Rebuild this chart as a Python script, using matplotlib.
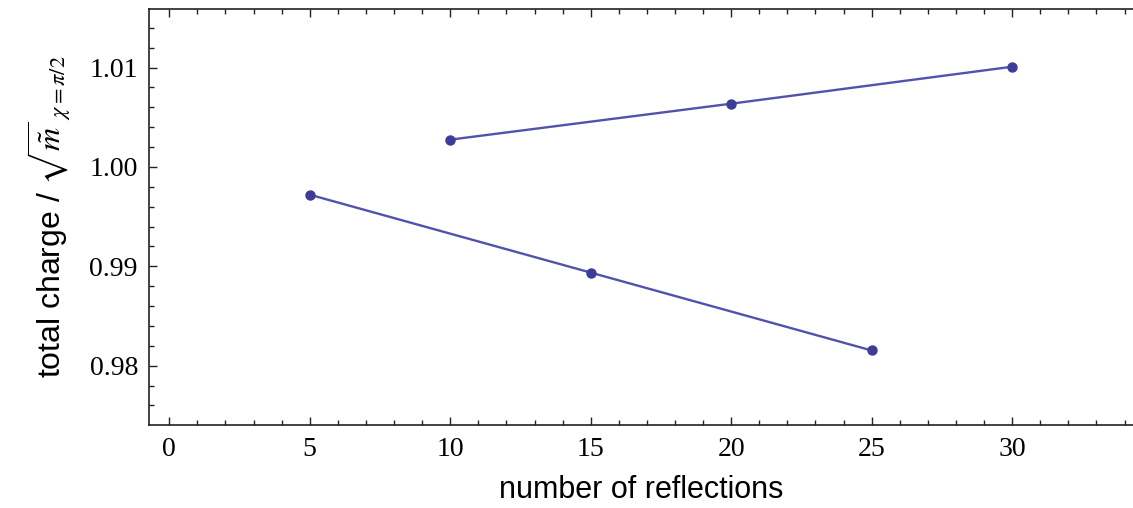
import matplotlib
matplotlib.use("Agg")
import matplotlib.pyplot as plt
from matplotlib.ticker import MultipleLocator

# data
x_low = [5, 15, 25]
y_low = [0.99721, 0.98937, 0.98153]
x_up = [10, 20, 30]
y_up = [1.00275, 1.00637, 1.01009]

x_ticks = [0, 5, 10, 15, 20, 25, 30]
y_ticks = [0.98, 0.99, 1.00, 1.01]
y_tick_labels = ["0.98", "0.99", "1.00", "1.01"]

plt.rcParams['mathtext.fontset'] = 'stix'
col_line = '#5252ad'
col_pt = '#3d3d99'

fig = plt.figure(figsize=(11.33, 5.08), dpi=100)
ax = fig.add_axes([149/1133, 83/508, 1 - 149/1133, 416/508])

for xs, ys in [(x_low, y_low), (x_up, y_up)]:
    ax.plot(xs, ys, '-', color=col_line, lw=1.7)
    ax.plot(xs, ys, 'o', color=col_pt, ms=6.5)

ax.set_xlim(-0.72, 34.3)
ax.set_ylim(0.97403, 1.0159)
ax.set_xticks(x_ticks)
ax.set_yticks(y_ticks)
ax.set_yticklabels(y_tick_labels)
ax.xaxis.set_minor_locator(MultipleLocator(1))
ax.yaxis.set_minor_locator(MultipleLocator(0.002))
ax.tick_params(which='both', direction='in', top=True, right=False,
               width=1, colors='#222222')
ax.tick_params(which='major', length=6)
ax.tick_params(which='minor', length=3.5)
ax.tick_params(axis='x', pad=9)
ax.tick_params(axis='y', pad=8)
for lab in ax.get_xticklabels() + ax.get_yticklabels():
    lab.set_family('Liberation Serif')
    lab.set_fontsize(20)
    lab.set_color('black')
ax.spines['right'].set_visible(False)
for s in ['left', 'top', 'bottom']:
    ax.spines[s].set_linewidth(1.2)
    ax.spines[s].set_color('#222222')

ax.set_xlabel('number of reflections', family='Liberation Sans', fontsize=22, labelpad=9)
ax.set_ylabel(r'total charge / $\sqrt{\tilde{m}}_{\ \chi=\pi/2}$',
              family='Liberation Sans', fontsize=23, labelpad=12)

fig.savefig('out.png', dpi=100)
